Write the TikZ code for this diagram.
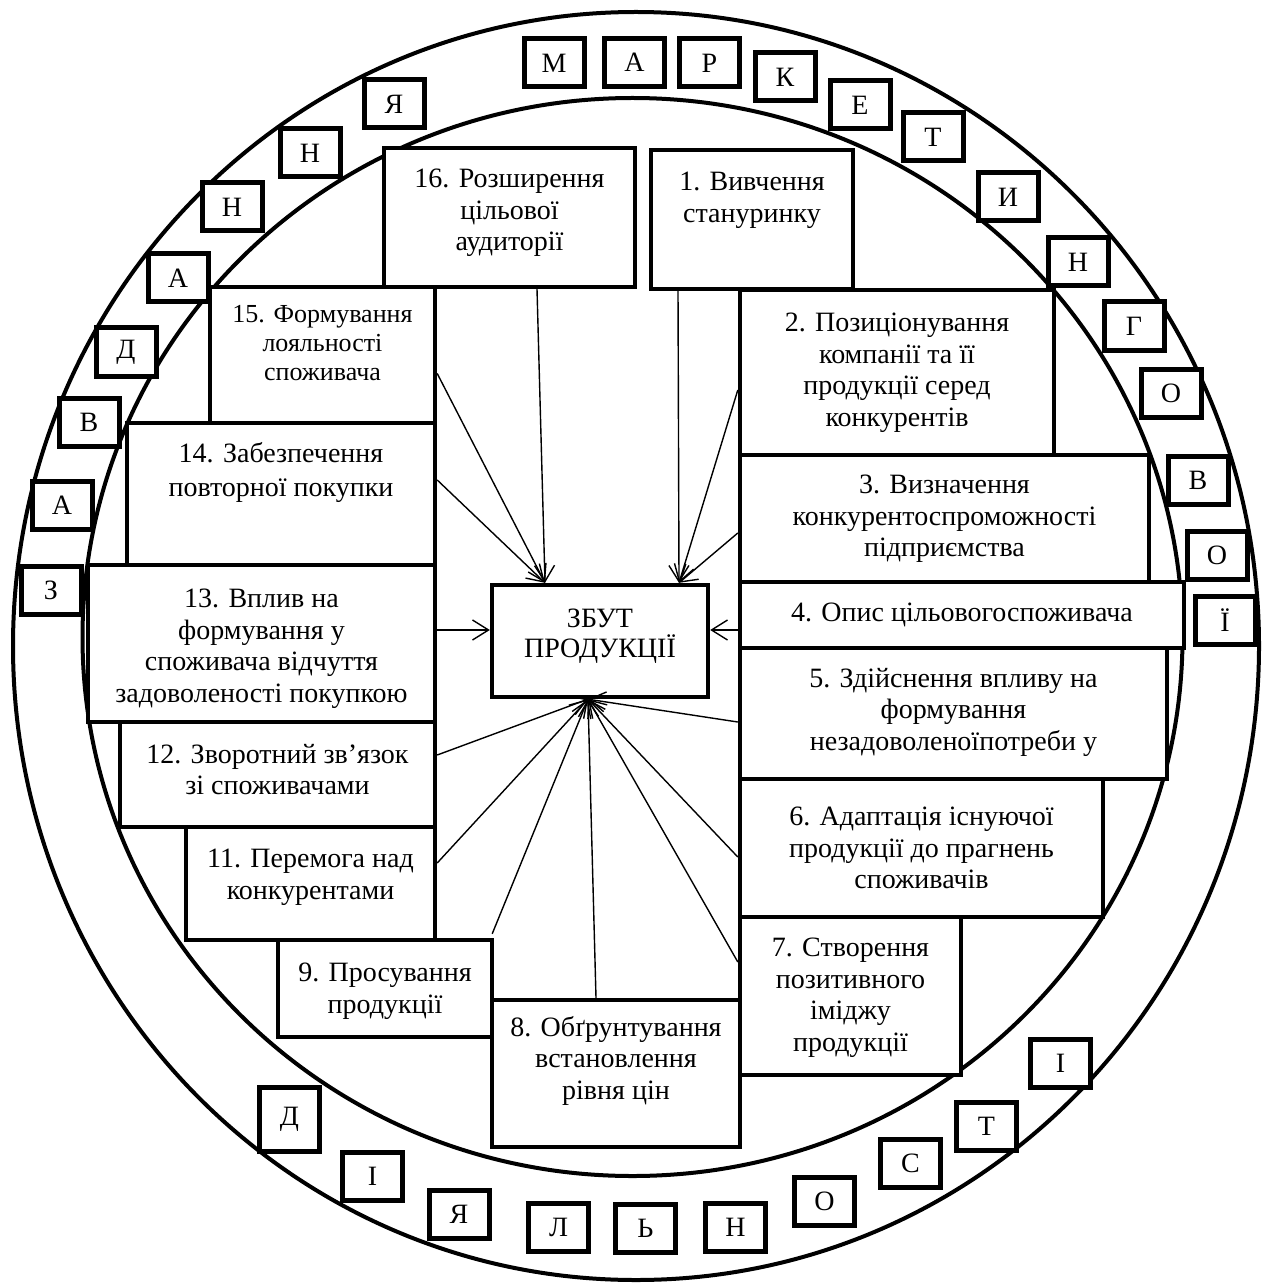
\documentclass[tikz,border=0pt]{standalone}
\usepackage{fontspec}
\setmainfont{Liberation Serif}
\usetikzlibrary{arrows.meta,fit}
\begin{document}
\begin{tikzpicture}[x=0.5pt,y=-0.5pt,
  mbox/.style={draw,line width=2.2pt,fill=white,inner sep=0pt},
  lbox/.style={draw,line width=2.5pt,fill=white,inner sep=0pt,minimum width=30pt,minimum height=24pt,font=\fontsize{14}{16}\selectfont},
  txt/.style={anchor=north,inner sep=0pt,align=center,font=\fontsize{14}{15.8}\selectfont},
  arr/.style={line width=0.7pt,-{Straight Barb[length=8pt,width=10pt]}},
  ring/.style={line width=2pt}]
\useasboundingbox (0,0) rectangle (1266,1283);
% rings
\draw[ring] (636,646) ellipse [x radius=311.5pt, y radius=317pt];
\draw[ring] (632.5,637) ellipse [x radius=275pt, y radius=269.5pt];
% main boxes
\node[mbox, fit={(384,148) (635,287)}] (b16) {};
\node[mbox, fit={(651,150) (853,289)}] (b1) {};
\node[mbox, fit={(740,290) (1054,455)}] (b2) {};
\node[mbox, fit={(740,455) (1149,582)}] (b3) {};
\node[mbox, fit={(740,582) (1184,648)}] (b4) {};
\node[mbox, fit={(740,648) (1167,779)}] (b5) {};
\node[mbox, fit={(740,779) (1103,917)}] (b6) {};
\node[mbox, fit={(740,917) (961,1075)}] (b7) {};
\node[mbox, fit={(492,1000) (740,1147)}] (b8) {};
\node[mbox, fit={(278,940) (492,1037)}] (b9) {};
\node[mbox, fit={(186,827) (435,940)}] (b11) {};
\node[mbox, fit={(120,722) (435,827)}] (b12) {};
\node[mbox, fit={(88,565) (435,722)}] (b13) {};
\node[mbox, fit={(127,423) (435,565)}] (b14) {};
\node[mbox, fit={(210,287) (435,423)}] (b15) {};
\node[mbox, fit={(492,585) (708,697)}] (zb) {};
% texts
\node[txt] (t16) at ([yshift=-11.5pt]b16.north) {16. Розширення\\цільової\\аудиторії};
\node[txt] (t1) at ([yshift=-12pt]b1.north) {1. Вивчення\\стануринку};
\node[txt] (t2) at ([yshift=-12.5pt]b2.north) {2. Позиціонування\\компанії та її\\продукції серед\\конкурентів};
\node[txt] (t3) at ([yshift=-11pt]b3.north) {3. Визначення\\конкурентоспроможності\\підприємства};
\node[txt] (t4) at ([yshift=-11.5pt]b4.north) {4. Опис цільовогоспоживача};
\node[txt] (t5) at ([yshift=-11pt]b5.north) {5. Здійснення впливу на\\формування\\незадоволеноїпотреби у};
\node[txt] (t6) at ([yshift=-15pt]b6.north) {6. Адаптація існуючої\\продукції до прагнень\\споживачів};
\node[txt] (t7) at ([yshift=-11.5pt]b7.north) {7. Створення\\позитивного\\іміджу\\продукції};
\node[txt] (t8) at ([yshift=-9pt]b8.north) {8. Обґрунтування\\встановлення\\рівня цін};
\node[txt] (t9) at ([yshift=-12.5pt]b9.north) {9. Просування\\продукції};
\node[txt] (t11) at ([yshift=-12pt]b11.north) {11. Перемога над\\конкурентами};
\node[txt] (t12) at ([yshift=-12pt]b12.north) {12. Зворотний зв’язок\\зі споживачами};
\node[txt] (t13) at ([yshift=-13pt]b13.north) {13. Вплив на\\формування у\\споживача відчуття\\задоволеності покупкою};
\node[txt, font=\fontsize{14}{17}\selectfont] (t14) at ([yshift=-10.5pt]b14.north) {14. Забезпечення\\повторної покупки};
\node[txt, font=\fontsize{13}{14.5}\selectfont] (t15) at ([yshift=-10pt]b15.north) {15. Формування\\лояльності\\споживача};
\node[inner sep=0pt, align=center, font=\fontsize{14}{15}\selectfont] (tz) at ([yshift=2.5pt]zb.center) {ЗБУТ\\ПРОДУКЦІЇ};
% arrows
\draw[arr] ([shift={(27.5,0)}]b16.south) -- ([shift={(-55,0)}]zb.north);
\draw[arr] ([shift={(0,18.5)}]b15.east) -- ([shift={(-55,0)}]zb.north);
\draw[arr] ([shift={(0,-14)}]b14.east) -- ([shift={(-55,0)}]zb.north);
\draw[arr] ([shift={(-74,0)}]b1.south) -- ([shift={(79,0)}]zb.north);
\draw[arr] ([shift={(0,17.5)}]b2.west) -- ([shift={(79,0)}]zb.north);
\draw[arr] ([shift={(0,14.5)}]b3.west) -- ([shift={(79,0)}]zb.north);
\draw[arr] ([shift={(0,-13.5)}]b13.east) -- ([shift={(0,-11)}]zb.west);
\draw[arr] ([shift={(0,15)}]b4.west) -- ([shift={(0,-11)}]zb.east);
\draw[arr] ([shift={(0,-19.5)}]b12.east) -- ([shift={(-12,0)}]zb.south);
\draw[arr] ([shift={(0,-20.5)}]b11.east) -- ([shift={(-12,0)}]zb.south);
\draw[arr] ([shift={(-2,-4)}]b9.north east) -- ([shift={(-12,0)}]zb.south);
\draw[arr] ([shift={(-20,0)}]b8.north) -- ([shift={(-12,0)}]zb.south);
\draw[arr] ([shift={(0,-34)}]b7.west) -- ([shift={(-12,0)}]zb.south);
\draw[arr] ([shift={(0,9)}]b6.west) -- ([shift={(-12,0)}]zb.south);
\draw[arr] ([shift={(0,8.5)}]b5.west) -- ([shift={(-12,0)}]zb.south);
% letter boxes: top / right
\node[lbox] (lM) at (554,63) {М};
\node[lbox] (lA1) at (634.5,62.5) {А};
\node[lbox] (lR) at (709.5,63) {Р};
\node[lbox] (lK) at (785,77) {К};
\node[lbox] (lE) at (860,105) {Е};
\node[lbox] (lT1) at (933,137) {Т};
\node[lbox] (lI1) at (1008,197) {И};
\node[lbox] (lN1) at (1078,262) {Н};
\node[lbox] (lG) at (1134,326) {Г};
\node[lbox] (lO1) at (1171,393) {О};
\node[lbox] (lV1) at (1198,480) {В};
\node[lbox] (lO2) at (1217,555) {О};
\node[lbox] (lYi) at (1225,620) {Ї};
% left
\node[lbox] (lYa1) at (394,104) {Я};
\node[lbox] (lN2) at (310,153) {Н};
\node[lbox] (lN3) at (232,207) {Н};
\node[lbox] (lA2) at (178,278) {А};
\node[lbox] (lD1) at (126,352) {Д};
\node[lbox] (lV2) at (89,422) {В};
\node[lbox] (lA3) at (62,505) {А};
\node[lbox] (lZ) at (51,590) {З};
% bottom
\node[lbox, minimum height=32pt] (lD2) at (289.5,1119.5) {Д};
\node[lbox] (lI2) at (372.5,1176.5) {І};
\node[lbox] (lYa2) at (459,1214) {Я};
\node[lbox] (lL) at (558.5,1227.5) {Л};
\node[lbox] (lSoft) at (645.5,1228) {Ь};
\node[lbox] (lN4) at (735.5,1227.5) {Н};
\node[lbox] (lO3) at (824.5,1201.5) {О};
\node[lbox] (lS) at (910.5,1163) {С};
\node[lbox] (lT2) at (986.5,1126) {Т};
\node[lbox] (lI3) at (1060.5,1063) {І};
\end{tikzpicture}
\end{document}
